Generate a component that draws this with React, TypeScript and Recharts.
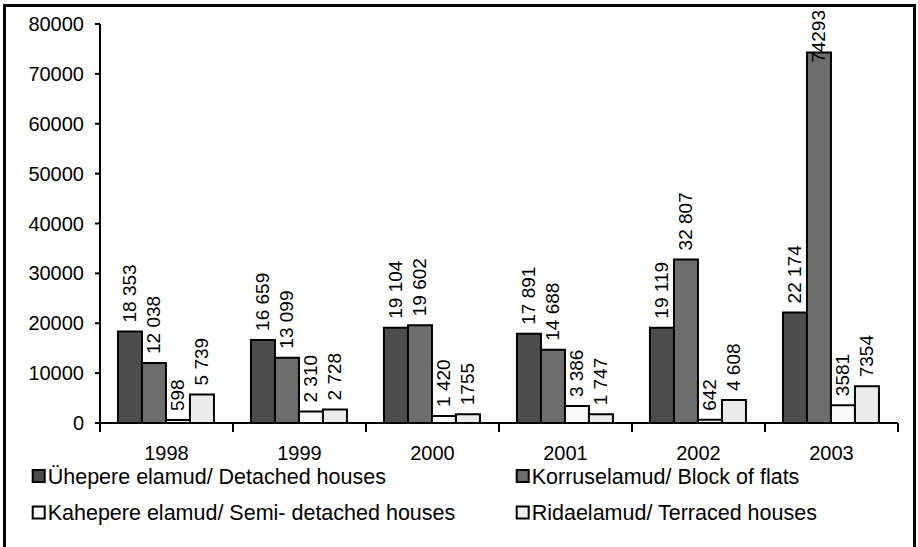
import React from 'react';
import { BarChart, Bar, XAxis, YAxis, Legend, LabelList } from 'recharts';

const years = ['1998', '1999', '2000', '2001', '2002', '2003'];
const detached = [18353, 16659, 19104, 17891, 19119, 22174];
const flats = [12038, 13099, 19602, 14688, 32807, 74293];
const semi = [598, 2310, 1420, 3386, 642, 3581];
const terraced = [5739, 2728, 1755, 1747, 4608, 7354];

const detachedLabels = ['18 353', '16 659', '19 104', '17 891', '19 119', '22 174'];
const flatsLabels = ['12 038', '13 099', '19 602', '14 688', '32 807', '74293'];
const semiLabels = ['598', '2 310', '1 420', '3 386', '642', '3581'];
const terracedLabels = ['5 739', '2 728', '1755', '1 747', '4 608', '7354'];

const yTicks = [0, 10000, 20000, 30000, 40000, 50000, 60000, 70000, 80000];

const seriesNames = [
  'Ühepere elamud/ Detached houses',
  'Korruselamud/ Block of flats',
  'Kahepere elamud/ Semi- detached houses',
  'Ridaelamud/ Terraced houses',
];
const seriesColors = ['#4d4d4d', '#6d6d6d', '#fafafa', '#ececec'];

const data = years.map((y, i) => ({
  year: y,
  detached: detached[i],
  flats: flats[i],
  semi: semi[i],
  terraced: terraced[i],
  detachedLabel: detachedLabels[i],
  flatsLabel: flatsLabels[i],
  semiLabel: semiLabels[i],
  terracedLabel: terracedLabels[i],
}));

const W = 918;
const H = 547;
const MARGIN = { top: 24, right: 20, left: 10, bottom: 94 };
const Y_AXIS_W = 90;
const FONT = '"Liberation Sans", Arial, sans-serif';
const PLOT_W = W - MARGIN.left - Y_AXIS_W - MARGIN.right;
const BAND = PLOT_W / years.length;
const TICK_SIZE = 8;
const TICK_MARGIN = 15;
const LABEL_FS = 19;

function estLen(s: string) {
  let n = 0;
  for (const ch of s) n += ch === ' ' ? 0.278 : 0.556;
  return n * LABEL_FS;
}

const RotLabel = (props: any) => {
  const { x, y, width, value } = props;
  const cx = Number(x) + Number(width) / 2 + 6;
  const ay = Number(y) - 9;
  const str = String(value);
  const len = estLen(str);
  const minTop = 10;
  if (ay - len < minTop) {
    return (
      <text
        x={cx}
        y={minTop}
        transform={`rotate(-90, ${cx}, ${minTop})`}
        textAnchor="end"
        fontSize={LABEL_FS}
        fontFamily={FONT}
        fill="#000"
      >
        {str}
      </text>
    );
  }
  return (
    <text
      x={cx}
      y={ay}
      transform={`rotate(-90, ${cx}, ${ay})`}
      textAnchor="start"
      fontSize={LABEL_FS}
      fontFamily={FONT}
      fill="#000"
    >
      {str}
    </text>
  );
};

const XTick = (props: any) => {
  const { x, y, payload, index } = props;
  const axisY = Number(y) - TICK_SIZE - TICK_MARGIN;
  const left = Number(x) - BAND / 2;
  const right = Number(x) + BAND / 2;
  return (
    <g>
      <line x1={left} x2={left} y1={axisY} y2={axisY + 9} stroke="#000" strokeWidth={2} />
      {index === years.length - 1 && (
        <line x1={right} x2={right} y1={axisY} y2={axisY + 9} stroke="#000" strokeWidth={2} />
      )}
      <text x={x} y={y} dy="0.71em" textAnchor="middle" fontSize={20} fontFamily={FONT} fill="#000">
        {payload.value}
      </text>
    </g>
  );
};

const LegendContent = () => {
  const cols = [31.7, 515.7];
  const rows = [21, 57.5];
  return (
    <svg width={W} height={80} style={{ display: 'block' }}>
      {seriesNames.map((name, i) => {
        const cx = cols[i % 2];
        const cy = rows[Math.floor(i / 2)];
        return (
          <g key={name}>
            <rect x={cx + 1} y={cy - 6} width={12} height={12} fill={seriesColors[i]} stroke="#000" strokeWidth={2} />
            <text x={cx + 16} y={cy} dy="0.35em" fontSize={21.5} fontFamily={FONT} fill="#000">
              {name}
            </text>
          </g>
        );
      })}
    </svg>
  );
};

export default function App() {
  return (
    <div style={{ position: 'absolute', left: 0, top: 0, width: W, height: H, background: '#fff', overflow: 'hidden' }}>
      <div
        style={{
          position: 'absolute',
          left: 3,
          top: 4,
          width: 913,
          height: 570,
          border: '3px solid #000',
          boxSizing: 'border-box',
        }}
      />
      <div style={{ position: 'absolute', left: 0, top: 0 }}>
        <BarChart width={W} height={H} data={data} margin={MARGIN} barGap={0} barCategoryGap="13.5%">
          <XAxis
            dataKey="year"
            interval={0}
            height={30}
            tickLine={false}
            tickSize={TICK_SIZE}
            tickMargin={TICK_MARGIN}
            axisLine={{ stroke: '#000', strokeWidth: 2 }}
            tick={<XTick />}
          />
          <YAxis
            type="number"
            width={Y_AXIS_W}
            domain={[0, 80000]}
            ticks={yTicks}
            interval={0}
            tickSize={5}
            tickMargin={11}
            axisLine={{ stroke: '#000', strokeWidth: 2 }}
            tickLine={{ stroke: '#000', strokeWidth: 2 }}
            tick={{ fill: '#000', fontSize: 20, fontFamily: FONT }}
          />
          <Legend
            layout="horizontal"
            verticalAlign="middle"
            align="center"
            wrapperStyle={{ top: 455, left: 0, width: W, height: 80 }}
            content={<LegendContent />}
          />
          <Bar dataKey="detached" name={seriesNames[0]} fill={seriesColors[0]} stroke="#000" strokeWidth={2} isAnimationActive={false}>
            <LabelList dataKey="detachedLabel" content={<RotLabel />} />
          </Bar>
          <Bar dataKey="flats" name={seriesNames[1]} fill={seriesColors[1]} stroke="#000" strokeWidth={2} isAnimationActive={false}>
            <LabelList dataKey="flatsLabel" content={<RotLabel />} />
          </Bar>
          <Bar dataKey="semi" name={seriesNames[2]} fill={seriesColors[2]} stroke="#000" strokeWidth={2} isAnimationActive={false}>
            <LabelList dataKey="semiLabel" content={<RotLabel />} />
          </Bar>
          <Bar dataKey="terraced" name={seriesNames[3]} fill={seriesColors[3]} stroke="#000" strokeWidth={2} isAnimationActive={false}>
            <LabelList dataKey="terracedLabel" content={<RotLabel />} />
          </Bar>
        </BarChart>
      </div>
    </div>
  );
}
